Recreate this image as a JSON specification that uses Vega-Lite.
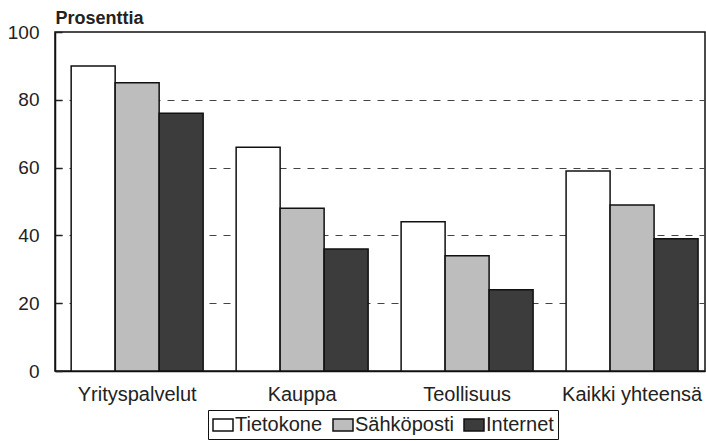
{
  "$schema": "https://vega.github.io/schema/vega-lite/v6.json",
  "width": 650,
  "height": 339,
  "autosize": {"type": "none"},
  "padding": {"left": 55, "top": 32, "right": 1, "bottom": 70},
  "background": "white",
  "config": {
    "font": "Liberation Sans",
    "view": {"stroke": "#111", "strokeWidth": 1.5}
  },
  "data": {
    "values": [
      {"ala": "Yrityspalvelut", "laite": "Tietokone", "arvo": 90},
      {"ala": "Yrityspalvelut", "laite": "Sähköposti", "arvo": 85},
      {"ala": "Yrityspalvelut", "laite": "Internet", "arvo": 76},
      {"ala": "Kauppa", "laite": "Tietokone", "arvo": 66},
      {"ala": "Kauppa", "laite": "Sähköposti", "arvo": 48},
      {"ala": "Kauppa", "laite": "Internet", "arvo": 36},
      {"ala": "Teollisuus", "laite": "Tietokone", "arvo": 44},
      {"ala": "Teollisuus", "laite": "Sähköposti", "arvo": 34},
      {"ala": "Teollisuus", "laite": "Internet", "arvo": 24},
      {"ala": "Kaikki yhteensä", "laite": "Tietokone", "arvo": 59},
      {"ala": "Kaikki yhteensä", "laite": "Sähköposti", "arvo": 49},
      {"ala": "Kaikki yhteensä", "laite": "Internet", "arvo": 39}
    ]
  },
  "mark": {"type": "bar", "stroke": "#111", "strokeWidth": 1.5},
  "encoding": {
    "x": {
      "field": "ala",
      "type": "nominal",
      "sort": ["Yrityspalvelut", "Kauppa", "Teollisuus", "Kaikki yhteensä"],
      "scale": {"paddingInner": 0.2, "paddingOuter": 0.07, "align": 0.7},
      "axis": {
        "title": null,
        "labelAngle": 0,
        "ticks": false,
        "domainColor": "#111",
        "domainWidth": 1.5,
        "labelFontSize": 20,
        "labelColor": "#222",
        "labelPadding": 13
      }
    },
    "xOffset": {
      "field": "laite",
      "type": "nominal",
      "sort": ["Tietokone", "Sähköposti", "Internet"],
      "scale": {"paddingInner": 0, "paddingOuter": 0}
    },
    "y": {
      "field": "arvo",
      "type": "quantitative",
      "scale": {"domain": [0, 100], "nice": false},
      "axis": {
        "values": [0, 20, 40, 60, 80, 100],
        "title": "Prosenttia",
        "titleAngle": 0,
        "titleAlign": "left",
        "titleBaseline": "alphabetic",
        "titleX": 0,
        "titleY": -9,
        "titleFontSize": 18,
        "titleFontWeight": "bold",
        "titleColor": "#222",
        "labelFontSize": 19,
        "labelColor": "#222",
        "tickSize": -7,
        "tickColor": "#222",
        "tickWidth": 1.5,
        "labelPadding": 23,
        "domainColor": "#111",
        "domainWidth": 1.5,
        "grid": true,
        "gridColor": "#444",
        "gridWidth": 1.2,
        "gridOpacity": {"condition": {"test": "datum.value === 0 || datum.value === 100", "value": 0}, "value": 1},
        "gridDash": [7, 7]
      }
    },
    "fill": {
      "field": "laite",
      "type": "nominal",
      "sort": ["Tietokone", "Sähköposti", "Internet"],
      "scale": {
        "domain": ["Tietokone", "Sähköposti", "Internet"],
        "range": ["#ffffff", "#bdbdbd", "#3c3c3c"]
      },
      "legend": {
        "title": null,
        "orient": "none",
        "direction": "horizontal",
        "legendX": 153,
        "legendY": 378,
        "strokeColor": "#111",
        "padding": 4,
        "symbolType": "M-1,-0.6H1V0.6H-1Z",
        "symbolSize": 400,
        "symbolStrokeColor": "#111",
        "symbolStrokeWidth": 1.5,
        "symbolOpacity": 1,
        "labelFontSize": 20,
        "labelColor": "#222",
        "labelOffset": 1,
        "columnPadding": 7
      }
    }
  }
}
